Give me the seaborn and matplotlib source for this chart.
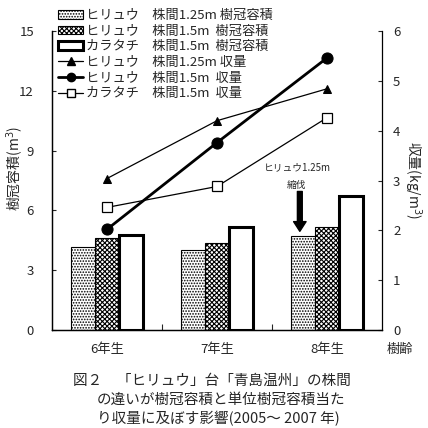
import numpy as np
import pandas as pd
import matplotlib
matplotlib.use("Agg")
import matplotlib.pyplot as plt
import seaborn as sns
from matplotlib.patches import Patch
from matplotlib.lines import Line2D

sns.set_theme(style="white")
plt.rcParams['font.family'] = ['Noto Sans CJK JP', 'DejaVu Sans']
plt.rcParams['hatch.linewidth'] = 0.8

# ---- data ----
ages = ["6年生", "7年生", "8年生"]
bar_labels = ["ヒリュウ　株間1.25m 樹冠容積", "ヒリュウ　株間1.5m  樹冠容積", "カラタチ　株間1.5m  樹冠容積"]
vol_hiryu_125 = [4.15, 4.0, 4.7]
vol_hiryu_15 = [4.6, 4.35, 5.15]
vol_karatachi_15 = [4.75, 5.15, 6.7]
line_labels = ["ヒリュウ　株間1.25m 収量", "ヒリュウ　株間1.5m  収量", "カラタチ　株間1.5m  収量"]
yield_hiryu_125 = [3.04, 4.2, 4.84]
yield_hiryu_15 = [2.02, 3.76, 5.46]
yield_karatachi_15 = [2.46, 2.88, 4.26]
left_ticks = [0, 3, 6, 9, 12, 15]
right_ticks = [0, 1, 2, 3, 4, 5, 6]

df_bar = pd.DataFrame({
    "age": ages * 3,
    "vol": vol_hiryu_125 + vol_hiryu_15 + vol_karatachi_15,
    "series": [bar_labels[0]] * 3 + [bar_labels[1]] * 3 + [bar_labels[2]] * 3,
})

fig = plt.figure(figsize=(4.28, 4.28), dpi=100)
ax = fig.add_axes([52/428, (428-330)/428, (382-52)/428, (330-31)/428])

sns.barplot(data=df_bar, x="age", y="vol", hue="series", order=ages,
            hue_order=bar_labels, width=0.66, gap=0, ax=ax,
            palette=["white"] * 3, edgecolor="black", linewidth=0.8,
            legend=False, errorbar=None)

hatches = ["......", "xxxxxxx", ""]
lws = [0.8, 0.8, 2.2]
for cont, h, lw in zip(ax.containers, hatches, lws):
    for p in cont.patches:
        p.set_hatch(h)
        p.set_facecolor("white")
        p.set_edgecolor("black")
        p.set_linewidth(lw)

ax.set_xlim(-0.5, 2.5)
ax.set_ylim(0, 15)
ax.set_yticks(left_ticks)
ax.set_xlabel("")
ax.set_ylabel("")
ax.set_xticks([0, 1, 2])
ax.set_xticklabels(ages, fontsize=9.5)
ax.set_xticks([0.5, 1.5], minor=True)
ax.tick_params(axis="x", which="major", length=0, pad=9)
ax.tick_params(axis="x", which="minor", direction="in", length=4, width=0.8, bottom=True)
ax.tick_params(axis="y", direction="in", length=3, width=0.8, pad=13, labelsize=9.5, left=True)

ax2 = ax.twinx()
x = np.arange(3)
sns.lineplot(x=x, y=yield_hiryu_125, ax=ax2, color="black", lw=0.9,
             marker="^", markersize=6, markeredgecolor="black", markerfacecolor="black")
sns.lineplot(x=x, y=yield_hiryu_15, ax=ax2, color="black", lw=2.0,
             marker="o", markersize=8, markeredgecolor="black", markerfacecolor="black")
sns.lineplot(x=x, y=yield_karatachi_15, ax=ax2, color="black", lw=0.9,
             marker="s", markersize=7, markeredgecolor="black", markerfacecolor="white",
             markeredgewidth=0.9)
ax2.set_ylim(0, 6)
ax2.set_yticks(right_ticks)
ax2.set_xlim(-0.5, 2.5)
ax2.tick_params(axis="y", direction="in", length=3, width=0.8, pad=8, labelsize=9.5, right=True)

for a in (ax, ax2):
    a.spines["top"].set_visible(False)
    for s in ("left", "right", "bottom"):
        a.spines[s].set_color("black")
        a.spines[s].set_linewidth(0.9)
    a.grid(False)
ax.spines["right"].set_visible(False)

# annotation arrow
ax.annotate("", xy=(1.753, 4.95), xytext=(1.753, 6.95),
            arrowprops=dict(facecolor="black", edgecolor="black", width=3.5,
                            headwidth=9, headlength=7, shrink=0))
ax.text(1.726, 8.15, "ヒリュウ1.25m", ha="center", va="center", fontsize=7)
ax.text(1.726, 7.3, "縮伐", ha="center", va="center", fontsize=7)

# axis labels
fig.text(15/428, 1-168/428, "樹冠容積(m$^{3}$)", rotation=90, ha="center", va="center", fontsize=10)
fig.text(413/428, 1-180/428, "収量(kg/m$^{3}$)", rotation=270, ha="center", va="center", fontsize=10)
fig.text(400/428, 1-350/428, "樹齢", ha="center", va="center", fontsize=9.5)

# legend
handles = [
    Patch(facecolor="white", edgecolor="black", hatch="......", lw=0.8),
    Patch(facecolor="white", edgecolor="black", hatch="xxxxxxx", lw=0.8),
    Patch(facecolor="white", edgecolor="black", lw=2.2),
    Line2D([], [], color="black", lw=0.9, marker="^", markersize=6),
    Line2D([], [], color="black", lw=2.0, marker="o", markersize=6),
    Line2D([], [], color="black", lw=0.9, marker="s", markersize=6, markerfacecolor="white"),
]
fig.legend(handles, bar_labels + line_labels, loc="upper left",
           bbox_to_anchor=(58/428, 1-9/428), frameon=False, fontsize=9.5,
           handlelength=1.9, handleheight=0.6, handletextpad=0.2,
           labelspacing=0.2, borderpad=0, borderaxespad=0)

# caption
cap_fs = 10.5
fig.text(73/428, 1-381/428, "図２　「ヒリュウ」台「青島温州」の株間", ha="left", va="center", fontsize=cap_fs)
fig.text(97/428, 1-400/428, "の違いが樹冠容積と単位樹冠容積当た", ha="left", va="center", fontsize=cap_fs)
fig.text(97/428, 1-419/428, "り収量に及ぼす影響(2005～ 2007 年)", ha="left", va="center", fontsize=cap_fs)

fig.savefig("out.png", dpi=100)
